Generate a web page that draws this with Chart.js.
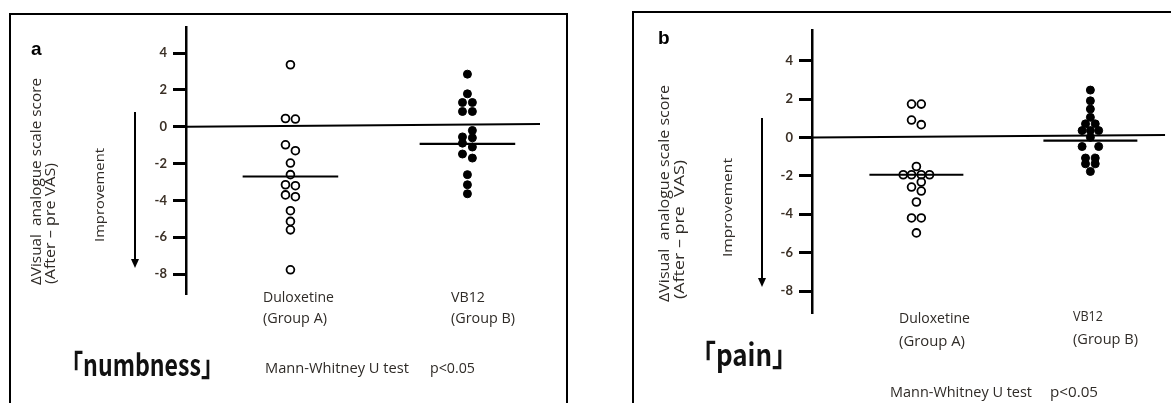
<!DOCTYPE html>
<html>
<head>
<meta charset="utf-8">
<script src="https://cdn.jsdelivr.net/npm/chart.js@4.4.1/dist/chart.umd.min.js"></script>
<style>
  html, body { margin: 0; padding: 0; background: #fff; }
  body { width: 1171px; height: 403px; position: relative; overflow: hidden; }
  canvas { position: absolute; top: 0; }
  #numb { left: 0; }
  #pain { left: 585px; }
</style>
</head>
<body>
<canvas id="numb" width="585" height="403"></canvas>
<canvas id="pain" width="586" height="403"></canvas>
<script>
const yTicks = [4, 2, 0, -2, -4, -6, -8];
const groupNames = ['Duloxetine', 'VB12'];
const groupSubs = ['(Group A)', '(Group B)'];

// a: numbness (Δ VAS per patient, side = horizontal nudge when points overlap)
const numbDulox = [3.37, 0.45, 0.42, -0.98, -1.3, -1.97, -2.6, -3.15, -3.2, -3.7, -3.8, -4.56, -5.14, -5.6, -7.77];
const numbDuloxSide = [0, -1, 1, -1, 1, 0, 0, -1, 1, -1, 1, 0, 0, 0, 0];
const numbVb12 = [2.86, 1.79, 1.32, 1.32, 0.83, 0.83, -0.2, -0.55, -0.6, -0.89, -1.1, -1.48, -1.7, -2.6, -3.15, -3.64];
const numbVb12Side = [0, 0, -1, 1, -1, 1, 1, -1, 1, -1, 1, -1, 1, 0, 0, 0];
const numbMedians = [-2.7, -0.93];
const numbZeroEnd = 0.15;

// b: pain
const painDulox = [1.74, 1.74, 0.91, 0.67, -1.51, -1.94, -1.94, -1.94, -1.94, -2.32, -2.58, -2.79, -3.36, -4.19, -4.19, -4.97];
const painDuloxSide = [-1, 1, -1, 1, 0, -2.7, -1, 1, 2.7, 1, -1, 1, 0, -1, 1, 0];
const painVb12 = [2.47, 1.91, 1.48, 1.05, 0.71, 0.71, 0.36, 0.36, 0.36, 0.01, -0.47, -0.47, -1.07, -1.07, -1.37, -1.37, -1.77];
const painVb12Side = [0, 0, 0, 0, -1, 1, -1.7, 0, 1.7, 0, -1.7, 1.7, -1, 1, -1, 1, 0];
const painMedians = [-1.94, -0.16];
const painZeroEnd = 0.13;

const TXT = '#2f2b27';
const SANS = '"Open Sans", sans-serif';

// draws the frame, letters, titles and arrow for one panel
function decorations(p) {
  return {
    id: 'decor',
    afterDraw(chart) {
      const ctx = chart.ctx;
      const ox = p.offset;
      ctx.save();
      ctx.strokeStyle = '#000';
      ctx.lineWidth = 2;
      ctx.strokeRect(p.frame[0] - ox, p.frame[1], p.frame[2], p.frame[3]);

      // improvement arrow
      const ax = p.arrow[0] - ox, y1 = p.arrow[1], y2 = p.arrow[2];
      ctx.beginPath();
      ctx.moveTo(ax, y1);
      ctx.lineTo(ax, y2 - 6);
      ctx.lineWidth = 2;
      ctx.stroke();
      ctx.beginPath();
      ctx.moveTo(ax - 4, y2 - 9);
      ctx.lineTo(ax + 4, y2 - 9);
      ctx.lineTo(ax, y2);
      ctx.closePath();
      ctx.fillStyle = '#000';
      ctx.fill();

      p.texts.forEach(t => {
        ctx.save();
        ctx.font = t.font;
        ctx.fillStyle = t.color || TXT;
        ctx.textBaseline = t.base || 'middle';
        ctx.textAlign = 'left';
        ctx.translate(t.x - ox, t.y);
        if (t.rot) ctx.rotate(-Math.PI / 2);
        if (t.w) {
          // stretch or squeeze along the text so it spans the same length as the scan
          const k = t.w / ctx.measureText(t.t).width;
          ctx.scale(k, 1);
        }
        ctx.fillText(t.t, 0, 0);
        ctx.restore();
      });
      ctx.restore();
    }
  };
}

function buildPanel(id, p) {
  const jit = 0.028;
  const pts = (vals, sides, g) => vals.map((v, i) => ({x: g + sides[i] * jit, y: v}));
  const med = (g, m) => [{x: g - 0.27, y: m}, {x: g + 0.27, y: m}];
  const lineSet = data => ({
    type: 'line', data, borderColor: '#000', borderWidth: 2.2, pointRadius: 0, fill: false
  });

  new Chart(document.getElementById(id), {
    type: 'scatter',
    data: {
      datasets: [
        lineSet([{x: p.xMin, y: 0}, {x: p.xMax, y: p.zeroEnd}]),
        lineSet(med(1, p.medians[0])),
        lineSet(med(2, p.medians[1])),
        {
          data: pts(p.dulox, p.duloxSide, 1),
          backgroundColor: 'rgba(255,255,255,0)',
          borderColor: '#000',
          borderWidth: 1.8,
          pointRadius: 3.9
        },
        {
          data: pts(p.vb12, p.vb12Side, 2),
          backgroundColor: '#000',
          borderColor: '#000',
          borderWidth: 1,
          pointRadius: 4
        }
      ]
    },
    options: {
      responsive: false,
      animation: false,
      layout: {padding: p.pad},
      plugins: {legend: {display: false}, tooltip: {enabled: false}},
      scales: {
        x: {type: 'linear', min: p.xMin, max: p.xMax, display: false},
        y: {
          min: p.yMin,
          max: p.yMax,
          afterBuildTicks: s => { s.ticks = yTicks.map(v => ({value: v})); },
          afterFit: s => { s.width = p.axisW; },
          border: {display: true, color: '#000', width: 2.5},
          grid: {drawOnChartArea: false, drawTicks: true, tickLength: 13, color: '#000', lineWidth: 3},
          ticks: {
            color: '#3b3026',
            font: {family: 'Lato', size: 13, weight: 'bold'},
            padding: p.tickPad,
            callback: v => String(v)
          }
        }
      }
    },
    plugins: [decorations(p)]
  });
}

buildPanel('numb', {
  offset: 0,
  dulox: numbDulox, duloxSide: numbDuloxSide,
  vb12: numbVb12, vb12Side: numbVb12Side,
  medians: numbMedians, zeroEnd: numbZeroEnd,
  xMin: 0.41, xMax: 2.41, yMin: -9.03, yMax: 5.42,
  pad: {left: 100, top: 27, right: 45, bottom: 110},
  axisW: 86, tickPad: 6,
  frame: [10, 14, 557, 500],
  arrow: [135, 112, 268],
  texts: [
    {t: 'a', x: 31, y: 50, font: 'bold 19px "Liberation Sans"', color: '#000'},
    {t: 'ΔVisual  analogue scale score', x: 37, y: 285, rot: true, w: 207, font: '14.5px ' + SANS},
    {t: '(After – pre VAS)', x: 51, y: 284, rot: true, w: 121, font: '14.5px ' + SANS},
    {t: 'Improvement', x: 100, y: 242, rot: true, w: 94, font: '13px ' + SANS},
    {t: groupNames[0], x: 263, y: 298, w: 71, font: '15px ' + SANS},
    {t: groupSubs[0], x: 263, y: 319, w: 64, font: '15px ' + SANS},
    {t: groupNames[1], x: 451, y: 298, w: 34, font: '15px ' + SANS},
    {t: groupSubs[1], x: 451, y: 319, w: 64, font: '15px ' + SANS},
    {t: '「numbness」', x: 60, y: 376, base: 'alphabetic', w: 164, font: 'bold 30px "Noto Sans CJK JP"', color: '#111'},
    {t: 'Mann-Whitney U test', x: 265, y: 369, w: 144, font: '14.5px ' + SANS},
    {t: 'p<0.05', x: 430, y: 369, w: 45, font: '14.5px ' + SANS}
  ]
});

buildPanel('pain', {
  offset: 585,
  dulox: painDulox, duloxSide: painDuloxSide,
  vb12: painVb12, vb12Side: painVb12Side,
  medians: painMedians, zeroEnd: painZeroEnd,
  xMin: 0.4, xMax: 2.43, yMin: -9.09, yMax: 5.6,
  pad: {left: 141, top: 30, right: 4, bottom: 91},
  axisW: 86, tickPad: 6,
  frame: [633, 12, 600, 500],
  arrow: [762, 118, 287],
  texts: [
    {t: 'b', x: 658, y: 39, font: 'bold 19px "Liberation Sans"', color: '#000'},
    {t: 'ΔVisual  analogue scale score', x: 665, y: 302, rot: true, w: 217, font: '15px ' + SANS},
    {t: '(After – pre  VAS)', x: 680, y: 299, rot: true, w: 139, font: '15px ' + SANS},
    {t: 'Improvement', x: 728, y: 257, rot: true, w: 99, font: '13.5px ' + SANS},
    {t: groupNames[0], x: 899, y: 319, w: 71, font: '15px ' + SANS},
    {t: groupSubs[0], x: 899, y: 342, w: 66, font: '15px ' + SANS},
    {t: groupNames[1], x: 1073, y: 317, w: 30, font: '15px ' + SANS},
    {t: groupSubs[1], x: 1073, y: 340, w: 65, font: '15px ' + SANS},
    {t: '「pain」', x: 690, y: 366, base: 'alphabetic', w: 108, font: 'bold 30px "Noto Sans CJK JP"', color: '#111'},
    {t: 'Mann-Whitney U test', x: 890, y: 393, w: 142, font: '14.5px ' + SANS},
    {t: 'p<0.05', x: 1050, y: 393, w: 48, font: '14.5px ' + SANS}
  ]
});
</script>
</body>
</html>
